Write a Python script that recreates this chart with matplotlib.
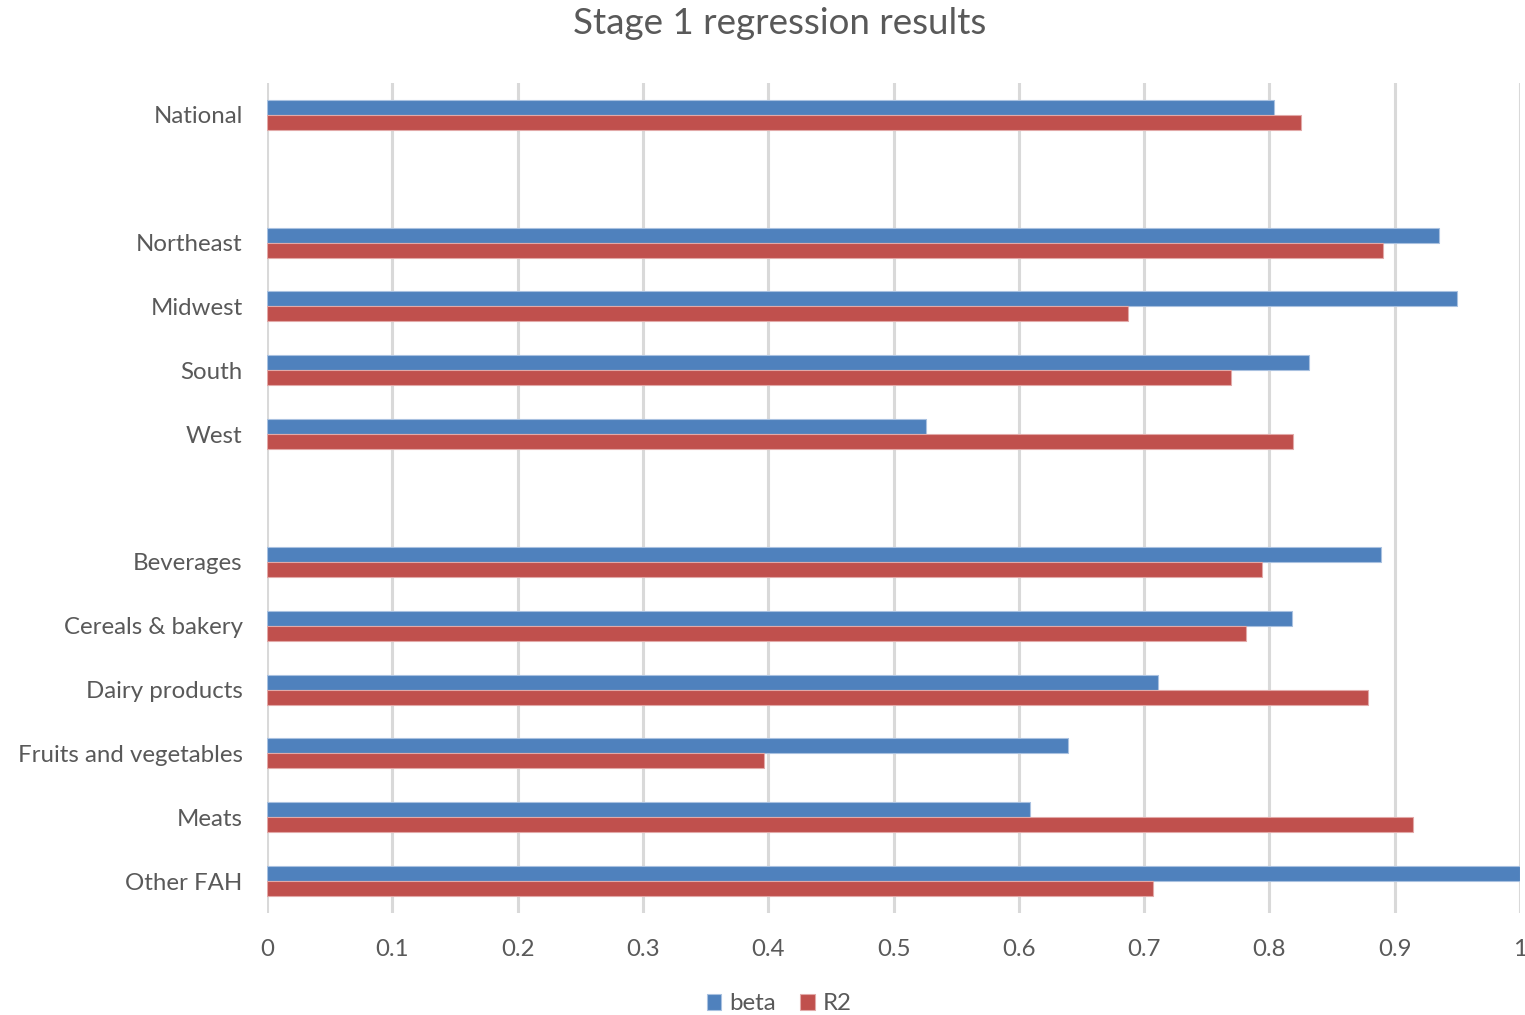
import matplotlib
matplotlib.use("Agg")
import matplotlib.pyplot as plt
import numpy as np

plt.rcParams['font.family'] = ['Lato', 'DejaVu Sans']

title = "Stage 1 regression results"

# Category groups, separated by one empty row on the chart
national = ["National"]
regions = ["Northeast", "Midwest", "South", "West"]
food_groups = ["Beverages", "Cereals & bakery", "Dairy products",
               "Fruits and vegetables", "Meats", "Other FAH"]

beta_national = [0.804]
beta_regions = [0.935, 0.950, 0.832, 0.526]
beta_food = [0.889, 0.818, 0.711, 0.639, 0.609, 1.000]

r2_national = [0.825]
r2_regions = [0.891, 0.687, 0.769, 0.819]
r2_food = [0.794, 0.781, 0.879, 0.397, 0.915, 0.707]

series_names = ["beta", "R2"]
x_ticks = [0, 0.1, 0.2, 0.3, 0.4, 0.5, 0.6, 0.7, 0.8, 0.9, 1.0]
x_tick_labels = ["0", "0.1", "0.2", "0.3", "0.4", "0.5", "0.6", "0.7", "0.8", "0.9", "1"]

blue = "#4F81BD"
red = "#C0504D"
text_col = "#595959"
grid_col = "#D9D9D9"

# Lay out the rows: one blank slot between groups
labels, beta, r2, pos = [], [], [], []
slot = 0
for gi, (names, b, r) in enumerate([(national, beta_national, r2_national),
                                     (regions, beta_regions, r2_regions),
                                     (food_groups, beta_food, r2_food)]):
    if gi > 0:
        slot += 1
    for n, bv, rv in zip(names, b, r):
        labels.append(n)
        beta.append(bv)
        r2.append(rv)
        pos.append(slot)
        slot += 1
n_slots = slot
pos = np.array(pos, dtype=float)

fig = plt.figure(figsize=(15.25, 10.15), dpi=100)
ax = fig.add_axes([267 / 1525, 1 - 913 / 1015, (1520 - 267) / 1525, (913 - 83) / 1015])

h = 0.235
ax.barh(pos - h / 2, beta, height=h, color=blue, edgecolor="#A9C1E0",
        linewidth=0.8, label=series_names[0], zorder=3)
ax.barh(pos + h / 2, r2, height=h, color=red, edgecolor="#E2A9A8",
        linewidth=0.8, label=series_names[1], zorder=3)

ax.set_ylim(n_slots - 0.5, -0.5)
ax.set_xlim(0, 1)
ax.set_yticks(pos)
ax.set_yticklabels(labels)
ax.set_xticks(x_ticks)
ax.set_xticklabels(x_tick_labels)

ax.tick_params(axis="y", length=0, pad=17.5, labelsize=17.3, labelcolor=text_col)
ax.tick_params(axis="x", length=0, pad=19, labelsize=17.3, labelcolor=text_col)

for s in ax.spines.values():
    s.set_visible(False)
ax.grid(axis="x", color=grid_col, linewidth=2.2, zorder=0)
ax.set_axisbelow(True)

fig.text(0.511, 1 - 24 / 1015, title, ha="center", va="center",
         fontsize=26.5, color=text_col)

leg = fig.legend(loc="center", bbox_to_anchor=(0.511, 1 - 1004 / 1015), ncol=2,
                 frameon=False, fontsize=17.3, handlelength=0.6, handleheight=0.6,
                 handletextpad=0.35, columnspacing=1.0)
for t in leg.get_texts():
    t.set_color(text_col)

fig.savefig("out.png", dpi=100, facecolor="white")
